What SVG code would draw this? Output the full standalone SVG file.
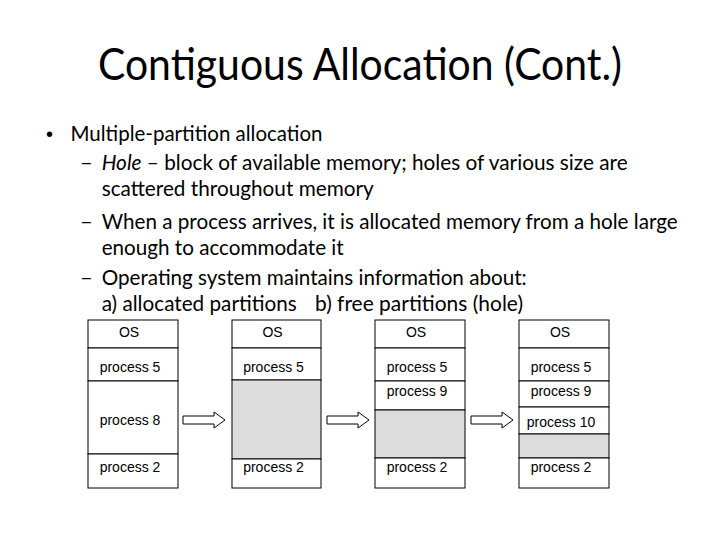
<svg xmlns="http://www.w3.org/2000/svg" width="720" height="540" viewBox="0 0 720 540">
<style>
.title{font-family:Lato,"Open Sans","Liberation Sans",sans-serif;font-size:44px;fill:#000}
.body{font-family:Lato,"Open Sans","Liberation Sans",sans-serif;font-size:22px;fill:#000}
.bul{font-family:"Liberation Sans",Arial,sans-serif;font-size:20px;fill:#000}
.cell{fill:#fff;stroke:#000;stroke-width:1}
.hole{fill:#dddddd;stroke:#000;stroke-width:1}
.lbl{font-family:"Liberation Sans",Arial,sans-serif;font-size:14px;fill:#000;text-anchor:middle}
.arrow{fill:#fff;stroke:#000;stroke-width:1}
</style>
<rect x="0" y="0" width="720" height="540" fill="#fff"/>
<g id="title">
<text class="title" x="360" y="80" text-anchor="middle" textLength="524" lengthAdjust="spacingAndGlyphs">Contiguous Allocation (Cont.)</text>
</g>
<g id="bullets">
<text class="bul" x="46" y="141">•</text>
<text class="body" x="70.5" y="141" textLength="252" lengthAdjust="spacingAndGlyphs">Multiple-partition allocation</text>
<text class="body" x="80" y="170">–</text>
<text class="body" x="101.7" y="170" textLength="526" lengthAdjust="spacingAndGlyphs"><tspan font-style="italic">Hole</tspan> – block of available memory; holes of various size are</text>
<text class="body" x="101.7" y="196" textLength="272" lengthAdjust="spacingAndGlyphs">scattered throughout memory</text>
<text class="body" x="80" y="229">–</text>
<text class="body" x="101.7" y="229" textLength="576" lengthAdjust="spacingAndGlyphs">When a process arrives, it is allocated memory from a hole large</text>
<text class="body" x="101.7" y="255" textLength="242" lengthAdjust="spacingAndGlyphs">enough to accommodate it</text>
<text class="body" x="80" y="285">–</text>
<text class="body" x="101.7" y="285" textLength="425" lengthAdjust="spacingAndGlyphs">Operating system maintains information about:</text>
<text class="body" x="101.7" y="311" textLength="195" lengthAdjust="spacingAndGlyphs">a) allocated partitions</text>
<text class="body" x="315" y="311" textLength="208" lengthAdjust="spacingAndGlyphs">b) free partitions (hole)</text>
</g>
<g id="memory1">
<rect class="cell" x="88" y="320" width="90" height="28"/>
<rect class="cell" x="88" y="348" width="90" height="33"/>
<rect class="cell" x="88" y="381" width="90" height="73"/>
<rect class="cell" x="88" y="454" width="90" height="34"/>
<text class="lbl" x="129" y="337">OS</text>
<text class="lbl" x="130" y="372">process 5</text>
<text class="lbl" x="130" y="425">process 8</text>
<text class="lbl" x="130" y="472">process 2</text>
</g>
<g id="memory2">
<rect class="cell" x="232" y="320" width="89" height="28"/>
<rect class="cell" x="232" y="348" width="89" height="32"/>
<rect class="hole" x="232" y="380" width="89" height="79"/>
<rect class="cell" x="232" y="459" width="89" height="29"/>
<text class="lbl" x="272.5" y="337">OS</text>
<text class="lbl" x="273.5" y="372">process 5</text>
<text class="lbl" x="273.5" y="472">process 2</text>
</g>
<g id="memory3">
<rect class="cell" x="375" y="320" width="90" height="28"/>
<rect class="cell" x="375" y="348" width="90" height="33"/>
<rect class="cell" x="375" y="381" width="90" height="29"/>
<rect class="hole" x="375" y="410" width="90" height="48"/>
<rect class="cell" x="375" y="458" width="90" height="30"/>
<text class="lbl" x="416" y="337">OS</text>
<text class="lbl" x="417" y="372">process 5</text>
<text class="lbl" x="417" y="396">process 9</text>
<text class="lbl" x="417" y="472">process 2</text>
</g>
<g id="memory4">
<rect class="cell" x="519" y="320" width="90" height="28"/>
<rect class="cell" x="519" y="348" width="90" height="33"/>
<rect class="cell" x="519" y="381" width="90" height="26"/>
<rect class="cell" x="519" y="407" width="90" height="27"/>
<rect class="hole" x="519" y="434" width="90" height="24"/>
<rect class="cell" x="519" y="458" width="90" height="30"/>
<text class="lbl" x="560" y="337">OS</text>
<text class="lbl" x="561" y="372">process 5</text>
<text class="lbl" x="561" y="396">process 9</text>
<text class="lbl" x="561" y="427">process 10</text>
<text class="lbl" x="561" y="472">process 2</text>
</g>
<g id="connectors">
<path class="arrow" d="M183,416 H214 V412 L225,420 L214,428 V424 H183 Z"/>
<path class="arrow" d="M327,416 H358 V412 L369,420 L358,428 V424 H327 Z"/>
<path class="arrow" d="M471,416 H502 V412 L513,420 L502,428 V424 H471 Z"/>
</g>
</svg>
